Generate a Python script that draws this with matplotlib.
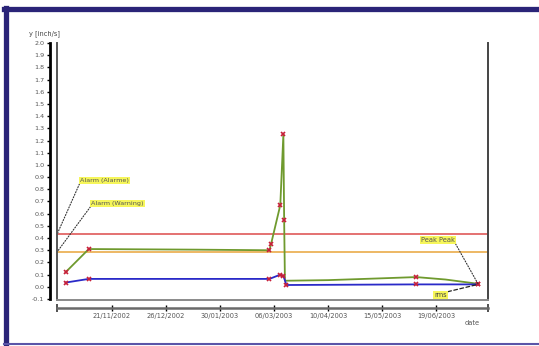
import matplotlib
matplotlib.use("Agg")
import matplotlib.pyplot as plt
import pandas as pd
from matplotlib.lines import Line2D

# ---- data ----
peak_dates = ["2002-10-22", "2002-11-06", "2003-01-15", "2003-03-03", "2003-03-04",
              "2003-03-10", "2003-03-12", "2003-03-12 12:00", "2003-03-13",
              "2003-04-10", "2003-05-15", "2003-06-06", "2003-06-25", "2003-07-16"]
peak_vals = [0.12, 0.31, 0.305, 0.30, 0.35, 0.67, 1.25, 0.55, 0.05,
             0.055, 0.07, 0.08, 0.06, 0.025]
peak_marked = [0, 1, 3, 4, 5, 6, 7, 11, 13]

rms_dates = ["2002-10-22", "2002-11-06", "2003-03-03", "2003-03-10", "2003-03-12",
             "2003-03-14", "2003-06-06", "2003-07-16"]
rms_vals = [0.035, 0.065, 0.065, 0.10, 0.09, 0.015, 0.02, 0.02]

alarm_level = 0.43
warning_level = 0.285

x_tick_dates = ["2002-11-21", "2002-12-26", "2003-01-30", "2003-03-06",
                "2003-04-10", "2003-05-15", "2003-06-19"]
x_tick_labels = ["21/11/2002", "26/12/2002", "30/01/2003", "06/03/2003",
                 "10/04/2003", "15/05/2003", "19/06/2003"]
y_ticks = [-0.1, 0.0, 0.1, 0.2, 0.3, 0.4, 0.5, 0.6, 0.7, 0.8, 0.9, 1.0,
           1.1, 1.2, 1.3, 1.4, 1.5, 1.6, 1.7, 1.8, 1.9, 2.0]
x_range = ["2002-10-16 10:00", "2003-07-22 12:00"]

y_label = "y [inch/s]"
x_label = "date"

# ---- figure ----
W, H = 539, 346
fig = plt.figure(figsize=(W / 100, H / 100), dpi=100)
fig.patch.set_facecolor("white")

navy = "#2a2478"
def fx(px): return px / W
def fy(py): return 1 - py / H
fig.add_artist(Line2D([fx(5.5), fx(5.5)], [fy(8), fy(344)], color=navy, lw=3.8, transform=fig.transFigure))
fig.add_artist(Line2D([fx(3.5), fx(539)], [fy(8.5), fy(8.5)], color=navy, lw=3.8, transform=fig.transFigure))
fig.add_artist(Line2D([fx(3.5), fx(539)], [fy(343.5), fy(343.5)], color="#5a55a8", lw=1.5, transform=fig.transFigure))

ax = fig.add_axes([fx(57), fy(300), (488 - 57) / W, (300 - 43) / H])

pd_peak = pd.to_datetime(peak_dates, format="mixed")
pd_rms = pd.to_datetime(rms_dates, format="mixed")
xr = pd.to_datetime(x_range, format="mixed")

ax.axhline(alarm_level, color="#dd4a4a", lw=1.1, zorder=2)
ax.axhline(warning_level, color="#e8a43a", lw=1.1, zorder=2)

ax.plot(pd_peak, peak_vals, color="#6f9a2e", lw=1.3, zorder=3,
        marker="x", markevery=peak_marked, markersize=3.2, mew=1.2,
        mec="#c8203a")
ax.plot(pd_rms, rms_vals, color="#2a2ac8", lw=1.3, zorder=3,
        marker="x", markersize=3.2, mew=1.2, mec="#c8203a")

ax.set_xlim(xr[0], xr[1])
ax.set_ylim(-0.108, 2.0)

# plot box: left, right and bottom edges only
for xs, ys, col in [([0, 0], [0, 1], "#555555"), ([1, 1], [0, 1], "#444444"),
                    ([0, 1], [0, 0], "#8a8a8a")]:
    ax.add_line(Line2D(xs, ys, transform=ax.transAxes, color=col, lw=1.4,
                       clip_on=False, zorder=5))
ax.spines["top"].set_visible(False)
ax.spines["right"].set_visible(False)
ax.spines["left"].set_position(("outward", 5.0))
ax.spines["left"].set_linewidth(2.0)
ax.spines["left"].set_color("black")
ax.spines["left"].set_bounds(-0.1, 2.0)
ax.spines["bottom"].set_position(("outward", 6.0))
ax.spines["bottom"].set_linewidth(1.8)
ax.spines["bottom"].set_color("#6a6a6a")

ax.set_yticks(y_ticks)
ax.set_yticklabels([f"{v:.1f}" for v in y_ticks])
ax.tick_params(axis="y", direction="out", length=2.5, width=1.0, labelsize=4.6,
               pad=1.5, colors="black", labelcolor="#555555")

ax.set_xticks(pd.to_datetime(x_tick_dates))
ax.set_xticklabels(x_tick_labels)
ax.tick_params(axis="x", direction="inout", length=4, width=1.0, labelsize=4.8,
               pad=1.5, colors="black", labelcolor="#555555")
ax.set_xticks([xr[0], xr[1]], minor=True)
ax.tick_params(axis="x", which="minor", direction="inout", length=6, width=1.2, colors="#333333")

ax.text(-0.028, 1.025, y_label, transform=ax.transAxes, fontsize=4.8,
        ha="center", va="bottom", color="#444444")
ax.text(0.963, -0.088, x_label, transform=ax.transAxes, fontsize=4.8,
        ha="center", va="center", color="#555555")

box = dict(boxstyle="square,pad=0.15", facecolor="#f6f65a", edgecolor="none")
ax.annotate("Alarm (Alarme)", xy=(xr[0], alarm_level), xycoords="data",
            xytext=(0.053, 0.455), textcoords="axes fraction", fontsize=4.6,
            color="#555555", ha="left", va="bottom", bbox=box,
            arrowprops=dict(arrowstyle="-", linestyle=(0, (1, 1.5)), lw=0.8,
                            color="#333333", relpos=(0, 0), shrinkA=0, shrinkB=0))
ax.annotate("Alarm (Warning)", xy=(xr[0], warning_level), xycoords="data",
            xytext=(0.079, 0.366), textcoords="axes fraction", fontsize=4.6,
            color="#555555", ha="left", va="bottom", bbox=box,
            arrowprops=dict(arrowstyle="-", linestyle=(0, (1, 1.5)), lw=0.8,
                            color="#333333", relpos=(0, 0), shrinkA=0, shrinkB=0))
ax.annotate("Peak Peak", xy=(pd_peak[-1], peak_vals[-1]), xycoords="data",
            xytext=(0.845, 0.222), textcoords="axes fraction", fontsize=4.8,
            color="#555555", ha="left", va="bottom", bbox=box,
            arrowprops=dict(arrowstyle="-", linestyle=(0, (1, 1.5)), lw=0.8,
                            color="#333333", relpos=(1, 0), shrinkA=0, shrinkB=0))
ax.annotate("rms", xy=(pd_rms[-1], rms_vals[-1]), xycoords="data",
            xytext=(0.875, 0.008), textcoords="axes fraction", fontsize=4.8,
            color="#444444", ha="left", va="bottom", bbox=box,
            arrowprops=dict(arrowstyle="-", linestyle=(0, (3, 2)), lw=0.9,
                            color="#222222", relpos=(1, 1), shrinkA=0, shrinkB=0))

fig.savefig("out.png", dpi=100)
